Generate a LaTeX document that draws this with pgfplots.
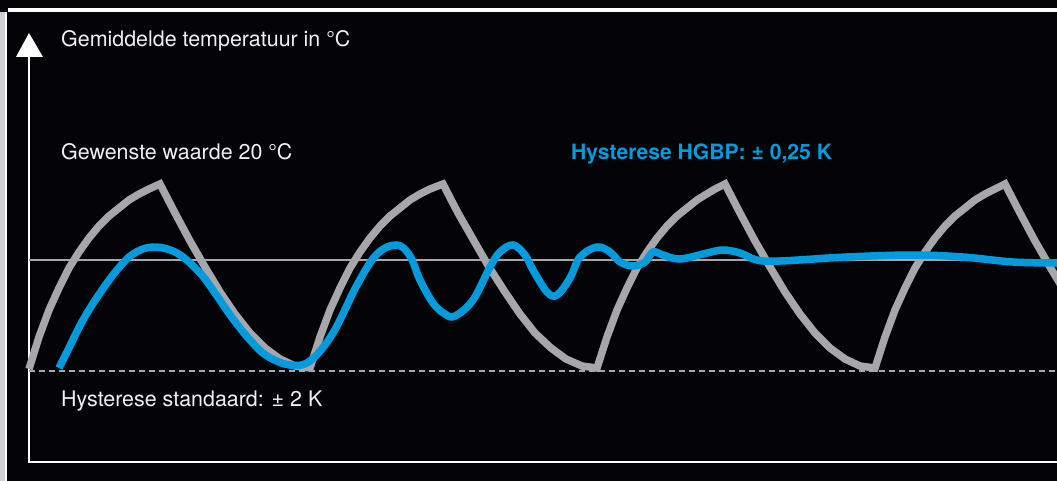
\documentclass[border=0pt]{standalone}
\usepackage{pgfplots}
\pgfplotsset{compat=1.18}
\usepackage{fontspec}
\setmainfont{TeX Gyre Heros}

\definecolor{bg}{RGB}{4,4,8}
\definecolor{curvegray}{RGB}{166,167,171}
\definecolor{hgbpblue}{RGB}{0,155,220}
\definecolor{txt}{RGB}{240,240,240}
\definecolor{strip}{RGB}{205,207,212}

\begin{document}
\begin{tikzpicture}
\begin{axis}[
    width=1057bp, height=481bp,
    scale only axis,
    xmin=0, xmax=1057,
    ymin=0, ymax=481,
    y dir=reverse,
    hide axis,
    clip=true
]
% background and frame
\fill[bg] (axis cs:0,0) rectangle (axis cs:1057,481);
\fill[strip] (axis cs:0,12) rectangle (axis cs:5,481);
\fill[white] (axis cs:5,12) rectangle (axis cs:7,481);
\fill[white] (axis cs:8,8) rectangle (axis cs:1057,12);

% y axis arrow and base line
\addplot[white, line width=2bp] coordinates {(29,57) (29,462)};
\fill[white] (axis cs:16,57) -- (axis cs:43,57) -- (axis cs:29,33) -- cycle;
\addplot[white, line width=2.5bp] coordinates {(28,462) (1057,462)};

% set point 20 C and standard hysteresis bound
\addplot[curvegray, line width=1.6bp] coordinates {(29,260) (1057,260)};
\addplot[curvegray, line width=2.8bp, dash pattern=on 6bp off 4bp] coordinates {(29,371) (1057,371)};

% standard hysteresis +-2 K
\addplot[curvegray, line width=7.5bp, line join=miter] coordinates {
    (29,369) (39,337) (49,310) (59,288) (69,268) (79,252) (89,238) (99,226)
    (109,216) (119,208) (129,200) (139,194) (149,189) (160,184)
    (175,213) (190,241) (205,267) (220,292) (235,314) (250,333) (265,348)
    (280,359) (295,366) (310,368)
    (320,337) (330,310) (340,288) (350,268) (360,252) (370,238) (380,226)
    (390,216) (400,208) (410,200) (420,194) (430,189) (443,184)
    (458,213) (474,241) (489,267) (505,292) (520,314) (535,333) (551,348)
    (566,359) (582,366) (597,368)
    (607,337) (617,310) (627,288) (637,268) (647,252) (657,238) (667,226)
    (677,216) (687,208) (697,200) (705,195) (715,189) (725,184)
    (740,213) (755,241) (770,267) (785,292) (800,314) (815,333) (830,348)
    (845,359) (860,366) (875,368)
    (885,337) (895,310) (905,288) (915,268) (925,252) (935,238) (945,226)
    (955,216) (965,208) (975,200) (985,194) (995,189) (1005,184)
    (1020,213) (1035,241) (1050,267) (1065,292)
};

% HGBP hysteresis +-0.25 K
\addplot[hgbpblue, line width=7.5bp, smooth, tension=0.6] coordinates {
    (59,368) (67,352) (83,320) (100,293) (117,270) (133,254) (153,247)
    (177,253) (200,273) (217,296) (233,319) (250,340) (267,356) (290,365)
    (310,361) (333,333) (357,285) (377,254) (397,245) (410,256) (420,280)
    (433,303) (445,314) (455,316) (473,300) (490,267) (500,252) (513,245)
    (525,255) (533,270) (547,292) (557,295) (570,278) (580,257) (597,247)
    (610,252) (620,262) (633,266) (645,262) (653,252) (663,255) (680,259)
    (707,253) (723,250) (740,253) (757,260) (780,261) (847,257) (913,255)
    (963,257) (1013,262) (1057,263)
};

% labels
\node[anchor=base west, text=txt, font=\fontsize{21.5}{24}\selectfont, inner sep=0pt]
    at (axis cs:61,47) {Gemiddelde temperatuur in °C};
\node[anchor=base west, text=txt, font=\fontsize{21.5}{24}\selectfont, inner sep=0pt]
    at (axis cs:61,159) {Gewenste waarde 20 °C};
\node[anchor=base west, text=txt, font=\fontsize{21.5}{24}\selectfont, inner sep=0pt]
    at (axis cs:61,406) {Hysterese standaard: ± 2 K};
\node[anchor=base west, text=hgbpblue, font=\fontsize{21.2}{24}\selectfont\bfseries, inner sep=0pt]
    at (axis cs:571,159) {Hysterese HGBP: ± 0,25 K};
\end{axis}
\end{tikzpicture}
\end{document}
